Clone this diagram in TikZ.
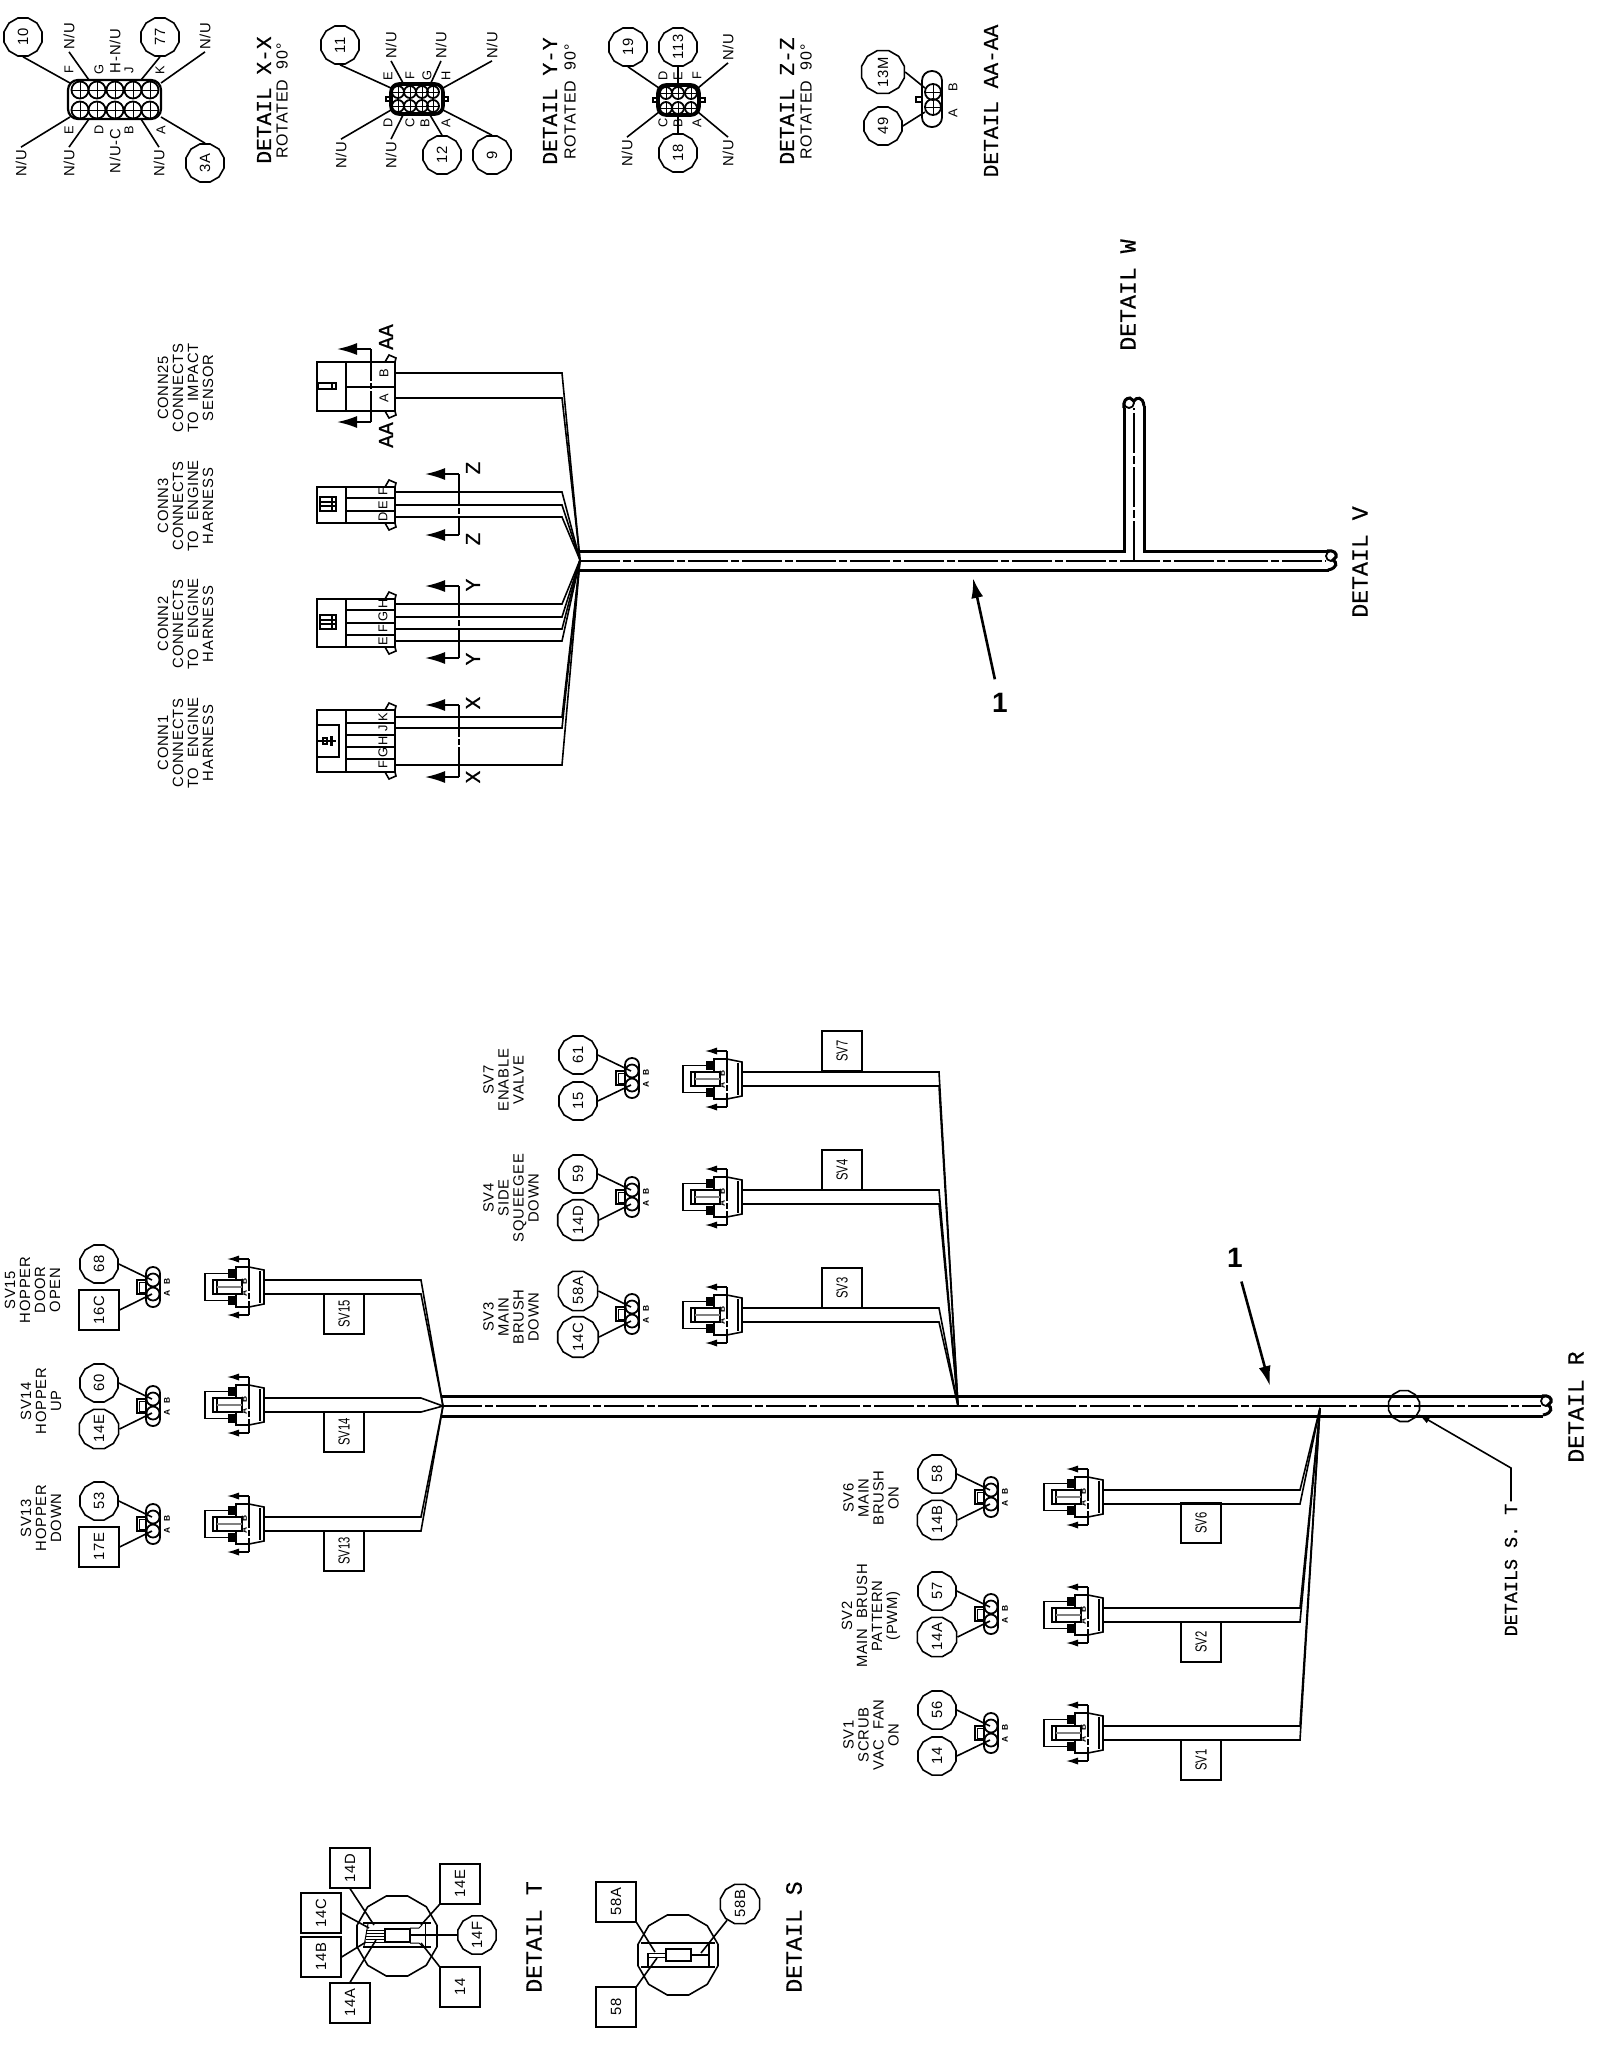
\documentclass[tikz,border=0pt]{standalone}
\usepackage{fontspec}
\setsansfont{Liberation Sans}
\setmonofont{Liberation Mono}
\newfontfamily\cadfont[LetterSpace=5,WordSpace=2]{Liberation Sans}
\newfontfamily\tagfont[FakeStretch=0.7]{Liberation Sans}
\newfontfamily\detfont[FakeBold=0.5]{Liberation Mono}
\usetikzlibrary{arrows.meta,calc,shapes.geometric}

\tikzset{
	wire/.style={line width=0.8pt},
	thinwire/.style={line width=0.5pt},
	trunk/.style={line width=1.5pt},
	midline/.style={line width=0.6pt, dash pattern=on 20pt off 1.5pt on 4pt off 1.5pt},
	cutline/.style={line width=0.8pt, dash pattern=on 16pt off 1pt on 3pt off 1pt},
	cutbig/.style={line width=0.9pt, -{Latex[length=10pt,width=6pt]}},
	cutsmall/.style={line width=0.7pt, -{Latex[length=6pt,width=3.6pt]}},
	callout/.style={line width=1.3pt, shorten <=7pt, -{Latex[length=10pt,width=6pt]}},
	cad/.style={rotate=90, inner sep=1pt, align=center, font=\cadfont\fontsize{7.4}{7.5}\selectfont},
	rotlbl/.style={rotate=90, inner sep=0pt, font=\cadfont\fontsize{8}{9}\selectfont},
	pinlbl/.style={rotate=90, inner sep=0pt, font=\sffamily\fontsize{6.4}{6.4}\selectfont},
	tinylbl/.style={rotate=90, inner sep=0pt, font=\sffamily\bfseries\fontsize{4.2}{4.2}\selectfont},
	detlbl/.style={rotate=90, inner sep=0pt, font=\detfont\fontsize{10.6}{12}\selectfont},
	detbig/.style={rotate=90, inner sep=0pt, font=\detfont\fontsize{11.6}{13}\selectfont},
	bubble/.style={cad, draw, wire, regular polygon, regular polygon sides=12, minimum size=19.7pt, inner sep=0pt},
	ring/.style={draw, wire, regular polygon, regular polygon sides=12, inner sep=0pt},
	tag/.style={cad, draw, wire, minimum width=19.8pt, minimum height=19.8pt, inner sep=0pt},
	svtag/.style={tag, font=\tagfont\fontsize{8}{8}\selectfont}
}

% round pin with a cross on it
\newcommand{\crosspin}[3]{
	\draw[line width=0.9pt] (#1,#2) circle (#3);
	\draw[thinwire] (#1-#3,#2) -- (#1+#3,#2) (#1,#2-#3) -- (#1,#2+#3);
}
% end of a harness, x of the small circle and y of the upper line
\newcommand{\harnesscap}[2]{
	\draw[line width=0.9pt] (#1,#2+5) circle (5);
	\draw[trunk] (#1-4,#2) .. controls (#1+3,#2-1) and (#1+6,#2+2) .. (#1+5,#2+6) -- (#1+2,#2+9) .. controls (#1+6,#2+11) and (#1+7,#2+17) .. (#1-3,#2+19);
}
% engine side connector body
\newcommand{\connbody}[2]{
	\draw[wire] (317,#1) rectangle (395,#2);
	\draw[wire] (346,#1) -- (346,#2);
	\draw[wire] (385,#1) -- (389,#1-7) -- (396,#1-4) -- (395,#1);
	\draw[wire] (385,#2) -- (389,#2+7) -- (396,#2+4) -- (395,#2);
}
% section marks on a connector
\newcommand{\sectcut}[3]{
	\draw[cutline] (#1,#2) -- (#1,#3);
	\draw[cutbig] (#1,#2) -- (#1-34,#2);
	\draw[cutbig] (#1,#3) -- (#1-34,#3);
}
% solenoid plug seen from the side
\newcommand{\solplug}[3]{
	\begin{scope}[shift={(#2,#3)}]
		\draw[wire] (-44,-13.5) rectangle (-13,13.5);
		\draw[wire, fill=white] (-13,-20) -- (0,-20) -- (15,-17) -- (15,17) -- (0,20) -- (-13,20) -- cycle;
		\draw[wire] (11,-16) -- (11,16);
		\fill (-21,-18) rectangle (-13,-9);
		\fill (-21,9) rectangle (-13,18);
		\draw[wire, fill=white] (-36,-7) rectangle (-7,7);
		\draw[line width=1.4pt] (-32,-7) -- (-32,7);
		\draw[line width=1.2pt, black!50] (-32,0) -- (-7,0);
		\draw[cutline] (0,-28) -- (0,28);
		\draw[cutsmall] (0,-28) -- (-22,-28);
		\draw[cutsmall] (0,28) -- (-22,28);
		\node[tinylbl] (#1B) at (-5,-6) {B};
		\node[tinylbl] (#1A) at (-5,6) {A};
		\coordinate (#1a) at (15,-7);
		\coordinate (#1b) at (15,7);
	\end{scope}
}
% solenoid plug seen from the end, with its two callouts
\newcommand{\solview}[6]{
	\begin{scope}[shift={(#2,#3)}]
		\draw[line width=0.9pt, rounded corners=3.4pt] (-7,-20) rectangle (7,20);
		\draw[wire] (-16,-7) rectangle (-7,7);
		\draw[thinwire] (-14,-5) rectangle (-7,5);
		\draw[line width=0.9pt] (0,-7) circle (6.5);
		\draw[line width=0.9pt] (0,7) circle (6.5);
		\coordinate (#1t) at (-1,-7);
		\coordinate (#1d) at (-1,7);
		\node[tinylbl] (#1B) at (14,-6) {B};
		\node[tinylbl] (#1A) at (14,6) {A};
	\end{scope}
	\node[bubble] (#1u) at (#2-54,#3-23) {#4};
	\node[#5] (#1l) at (#2-54,#3+23) {#6};
	\draw[wire] (#1u.south) -- (#1t);
	\draw[wire] (#1l.south) -- (#1d);
}

\begin{document}
\begin{tikzpicture}[x=0.5pt,y=-0.5pt]
			\useasboundingbox (0,0) rectangle (1600,2053);
			%%%%% START %%%%%
			
			% detail X-X
			\draw[line width=1.1pt, rounded corners=5pt] (68,80) rectangle (161,119);
			\foreach \px in {80,97,115,133,150}
				\foreach \py in {90,110}
					\crosspin{\px}{\py}{8.5};
			\node[bubble] (b10) at (23,37) {10};
			\node[bubble] (b77) at (160,37) {77};
			\node[bubble] (b3A) at (205,163) {3A};
			\node[cad] (nxa) at (69,36) {N/U};
			\node[cad] (nxb) at (115,51) {H-N/U};
			\node[cad] (nxc) at (205,36) {N/U};
			\node[cad] (nxd) at (21,163) {N/U};
			\node[cad] (nxe) at (69,163) {N/U};
			\node[cad] (nxf) at (115,151) {N/U-C};
			\node[cad] (nxg) at (159,163) {N/U};
			\foreach \l/\px/\py in {F/69/70,G/99/70,J/129/70,K/160/70,E/69/130,D/99/130,B/129/130,A/161/130}
				\node[pinlbl] (x\l) at (\px,\py) {\l};
			\coordinate (xa) at (70,83);
			\coordinate (xb) at (89,80);
			\coordinate (xc) at (141,80);
			\coordinate (xd) at (161,83);
			\coordinate (xe) at (70,117);
			\coordinate (xf) at (89,119);
			\coordinate (xg) at (141,119);
			\coordinate (xh) at (161,117);
			\draw[wire] (b10.west) -- (xa);
			\draw[wire] (nxa.west) -- (xb);
			\draw[wire] (b77.west) -- (xc);
			\draw[wire] (nxc.west) -- (xd);
			\draw[wire] (nxd.east) -- (xe);
			\draw[wire] (nxe.east) -- (xf);
			\draw[wire] (nxg.east) -- (xg);
			\draw[wire] (b3A.east) -- (xh);
			\node[detlbl] (detx) at (264,100) {DETAIL X-X};
			\node[rotlbl] (rotx) at (282,101) {ROTATED 90°};
			
			% detail Y-Y
			\draw[line width=1.8pt, rounded corners=4pt] (391,84) rectangle (443,114);
			\draw[wire] (386,97) rectangle (391,101);
			\draw[wire] (443,97) rectangle (448,101);
			\foreach \px in {398,410,422,433}
				\foreach \py in {92,106}
					\crosspin{\px}{\py}{6};
			\node[bubble] (b11) at (340,45) {11};
			\node[bubble] (b12) at (442,155) {12};
			\node[bubble] (b9) at (492,155) {9};
			\node[cad] (nya) at (391,45) {N/U};
			\node[cad] (nyb) at (441,45) {N/U};
			\node[cad] (nyc) at (492,45) {N/U};
			\node[cad] (nyd) at (341,155) {N/U};
			\node[cad] (nye) at (391,155) {N/U};
			\foreach \l/\px/\py in {E/388/76,F/410/76,G/427/76,H/446/76,D/388/123,C/410/123,B/425/123,A/446/123}
				\node[pinlbl] (y\l) at (\px,\py) {\l};
			\coordinate (ya) at (391,88);
			\coordinate (yb) at (403,83);
			\coordinate (yc) at (430,85);
			\coordinate (yd) at (443,88);
			\coordinate (ye) at (391,110);
			\coordinate (yf) at (403,115);
			\coordinate (yg) at (430,115);
			\coordinate (yh) at (443,110);
			\draw[wire] (b11.west) -- (ya);
			\draw[wire] (nya.west) -- (yb);
			\draw[wire] (nyb.west) -- (yc);
			\draw[wire] (nyc.west) -- (yd);
			\draw[wire] (nyd.east) -- (ye);
			\draw[wire] (nye.east) -- (yf);
			\draw[wire] (b12.east) -- (yg);
			\draw[wire] (b9.east) -- (yh);
			\node[detlbl] (dety) at (550,101) {DETAIL Y-Y};
			\node[rotlbl] (roty) at (570,102) {ROTATED 90°};
			
			% detail Z-Z
			\draw[line width=1.8pt, rounded corners=4pt] (658,85) rectangle (699,115);
			\draw[wire] (653,98) rectangle (658,102);
			\draw[wire] (699,98) rectangle (705,102);
			\foreach \px in {666,678,691}
				\foreach \py in {93,108}
					\crosspin{\px}{\py}{6};
			\node[bubble] (b19) at (628,47) {19};
			\node[bubble] (b113) at (678,47) {113};
			\node[bubble] (b18) at (678,153) {18};
			\node[cad] (nza) at (728,47) {N/U};
			\node[cad] (nzb) at (627,153) {N/U};
			\node[cad] (nzc) at (728,153) {N/U};
			\foreach \l/\px/\py in {D/663/76,E/678/76,F/697/76,C/663/123,B/678/123,A/697/123}
				\node[pinlbl] (z\l) at (\px,\py) {\l};
			\coordinate (za) at (659,88);
			\coordinate (zb) at (678,85);
			\coordinate (zc) at (698,88);
			\coordinate (zd) at (659,112);
			\coordinate (ze) at (678,115);
			\coordinate (zf) at (698,112);
			\draw[wire] (b19.west) -- (za);
			\draw[wire] (b113.west) -- (zb);
			\draw[wire] (nza.west) -- (zc);
			\draw[wire] (nzb.east) -- (zd);
			\draw[wire] (b18.east) -- (ze);
			\draw[wire] (nzc.east) -- (zf);
			\node[detlbl] (detz) at (787,101) {DETAIL Z-Z};
			\node[rotlbl] (rotz) at (806,102) {ROTATED 90°};
			
			% detail AA-AA
			\draw[line width=0.9pt, rounded corners=4.8pt] (922,71) rectangle (942,127);
			\draw[wire] (916,97) rectangle (922,102);
			\crosspin{933}{92}{8};
			\crosspin{933}{107}{8};
			\node[bubble] (b13M) at (883,72) {13M};
			\node[bubble] (b49) at (883,126) {49};
			\node[pinlbl] (aB) at (953,87) {B};
			\node[pinlbl] (aA) at (953,113) {A};
			\coordinate (aa) at (925,88);
			\coordinate (ab) at (925,112);
			\draw[wire] (b13M.south) -- (aa);
			\draw[wire] (b49.south) -- (ab);
			\node[detlbl] (detaa) at (991,101) {DETAIL AA-AA};
			
			% upper harness
			\coordinate (jh) at (580,560);
			\draw[trunk] (580,551) -- (1124,551) -- (1124,408);
			\draw[trunk] (1144,406) -- (1144,551) -- (1327,551);
			\draw[trunk] (580,570) -- (1329,570);
			\harnesscap{1331}{551}
			\draw[line width=0.9pt] (1129,403) circle (5);
			\draw[trunk] (1124,408) .. controls (1123,401) and (1126,398) .. (1130,398) -- (1134,401) .. controls (1136,397) and (1143,396) .. (1144,406);
			\draw[midline] (580,561) -- (1326,561);
			\draw[midline] (1134,561) -- (1134,408);
			
			\node[cad] (cn25) at (185.5,388) {CONN25\\CONNECTS\\TO IMPACT\\SENSOR};
			\node[cad] (cn3) at (185.5,506) {CONN3\\CONNECTS\\TO ENGINE\\HARNESS};
			\node[cad] (cn2) at (185.5,624) {CONN2\\CONNECTS\\TO ENGINE\\HARNESS};
			\node[cad] (cn1) at (185.5,743) {CONN1\\CONNECTS\\TO ENGINE\\HARNESS};
			
			\connbody{362}{411}
			\connbody{487}{523}
			\connbody{599}{647}
			\connbody{710}{772}
			\foreach \hy in {387,498,511,610,623,635,723,735,747,759}
				\draw[wire] (346,\hy) -- (395,\hy);
			\foreach \wy in {373,398,492,505,517,604,617,629,641,717,728,765}
				\draw[wire] (395,\wy) -- (562,\wy) -- (jh);
			\foreach \l/\py in {B/373,A/398}
				\node[pinlbl] (c25\l) at (384,\py) {\l};
			\foreach \l/\py in {F/492,E/505,D/517}
				\node[pinlbl] (c3\l) at (383,\py) {\l};
			\foreach \l/\py in {H/604,G/617,F/629,E/641}
				\node[pinlbl] (c2\l) at (383,\py) {\l};
			\foreach \l/\py in {K/717,J/728,H/741,G/753,F/765}
				\node[pinlbl] (c1\l) at (383,\py) {\l};
			
			% small marks inside the connector bodies
			\draw[wire] (318,383) rectangle (336,389);
			\draw[wire] (332,383) -- (332,389);
			\foreach \py in {497,615}{
				\draw[wire] (320,\py) rectangle (336,\py+14);
				\draw[wire] (320,\py+5) -- (336,\py+5) (320,\py+9) -- (336,\py+9) (332,\py) -- (332,\py+14);
			}
			\draw[wire] (317,725) rectangle (339,757);
			\draw[wire] (318,741) -- (336,741);
			\fill (330,736) rectangle (333,746);
			\draw[wire] (323,738) rectangle (327,744);
			
			\sectcut{371}{349}{422}
			\sectcut{459}{474}{535}
			\sectcut{459}{586}{658}
			\sectcut{459}{705}{777}
			\node[detlbl] (aat) at (386,337) {AA};
			\node[detlbl] (aab) at (386,435) {AA};
			\node[detlbl] (zt) at (473,468) {Z};
			\node[detlbl] (zb) at (473,539) {Z};
			\node[detlbl] (yt) at (473,585) {Y};
			\node[detlbl] (yb) at (473,659) {Y};
			\node[detlbl] (xt) at (473,703) {X};
			\node[detlbl] (xb) at (473,777) {X};
			
			\node[font=\sffamily\bfseries\fontsize{14}{14}\selectfont, inner sep=0pt] (oneu) at (1000,703) {1};
			\coordinate (oneut) at (973,578);
			\draw[callout] (oneu) -- (oneut);
			\node[detbig] (detw) at (1128,295) {DETAIL W};
			\node[detbig] (detv) at (1360,562) {DETAIL V};
			
			% lower harness
			\coordinate (jl) at (443,1406);
			\coordinate (jm) at (958,1406);
			\coordinate (jr) at (1320,1408);
			\draw[trunk] (442,1396) -- (1542,1396);
			\draw[trunk] (442,1416) -- (1543,1416);
			\harnesscap{1546}{1396}
			\draw[midline] (442,1406) -- (1541,1406);
			
			% middle solenoids
			\node[cad] (sv7t) at (503.5,1080) {SV7\\ENABLE\\VALVE};
			\node[cad] (sv4t) at (511,1198) {SV4\\SIDE\\SQUEEGEE\\DOWN};
			\node[cad] (sv3t) at (511,1317) {SV3\\MAIN\\BRUSH\\DOWN};
			\solview{vs7}{632}{1078}{61}{bubble}{15}
			\solview{vs4}{632}{1197}{59}{bubble}{14D}
			\solview{vs3}{632}{1314}{58A}{bubble}{14C}
			\solplug{ps7}{727}{1079}
			\solplug{ps4}{727}{1197}
			\solplug{ps3}{727}{1315}
			\node[svtag] (ts7) at (842,1051) {SV7};
			\node[svtag] (ts4) at (842,1170) {SV4};
			\node[svtag] (ts3) at (842,1288) {SV3};
			\foreach \n in {ps7,ps4,ps3}{
				\draw[wire] (\n a) -- ++(197,0) -- (jm);
				\draw[wire] (\n b) -- ++(197,0) -- (jm);
			}
			
			% left solenoids
			\node[cad] (sv15t) at (32.5,1290) {SV15\\HOPPER\\DOOR\\OPEN};
			\node[cad] (sv14t) at (41,1401) {SV14\\HOPPER\\UP};
			\node[cad] (sv13t) at (41,1518) {SV13\\HOPPER\\DOWN};
			\solview{vs15}{153}{1287}{68}{tag}{16C}
			\solview{vs14}{153}{1406}{60}{bubble}{14E}
			\solview{vs13}{153}{1524}{53}{tag}{17E}
			\solplug{ps15}{249}{1287}
			\solplug{ps14}{249}{1405}
			\solplug{ps13}{249}{1524}
			\node[svtag] (ts15) at (344,1314) {SV15};
			\node[svtag] (ts14) at (344,1432) {SV14};
			\node[svtag] (ts13) at (344,1551) {SV13};
			\foreach \n in {ps15,ps14,ps13}{
				\draw[wire] (\n a) -- ++(157,0) -- (jl);
				\draw[wire] (\n b) -- ++(157,0) -- (jl);
			}
			
			% right solenoids
			\node[cad] (sv6t) at (871,1498) {SV6\\MAIN\\BRUSH\\ON};
			\node[cad] (sv2t) at (871,1616) {SV2\\MAIN BRUSH\\PATTERN\\(PWM)};
			\node[cad] (sv1t) at (871,1735) {SV1\\SCRUB\\VAC FAN\\ON};
			\solview{vs6}{991}{1497}{58}{bubble}{14B}
			\solview{vs2}{991}{1614}{57}{bubble}{14A}
			\solview{vs1}{991}{1733}{56}{bubble}{14}
			\solplug{ps6}{1088}{1497}
			\solplug{ps2}{1088}{1615}
			\solplug{ps1}{1088}{1733}
			\node[svtag] (ts6) at (1201,1523) {SV6};
			\node[svtag] (ts2) at (1201,1642) {SV2};
			\node[svtag] (ts1) at (1201,1760) {SV1};
			\foreach \n in {ps6,ps2,ps1}{
				\draw[wire] (\n a) -- ++(197,0) -- (jr);
				\draw[wire] (\n b) -- ++(197,0) -- (jr);
			}
			
			\node[font=\sffamily\bfseries\fontsize{14}{14}\selectfont, inner sep=0pt] (onel) at (1235,1258) {1};
			\coordinate (onelt) at (1270,1386);
			\draw[callout] (onel) -- (onelt);
			
			\node[ring, minimum size=16pt] (loc) at (1404,1406) {};
			\node[rotate=90, inner sep=1pt, font=\detfont\fontsize{9.2}{11}\selectfont] (detst) at (1511,1570) {DETAILS S. T};
			\coordinate (locbend) at (1511,1468);
			\draw[wire, -{Latex[length=6pt,width=3.5pt]}] (detst.east) -- (locbend) -- (loc);
			\node[detbig] (detr) at (1576,1407) {DETAIL R};
			
			% detail T
			\node[ring, minimum size=41.4pt] (octt) at (397,1936) {};
			\draw[line width=1pt] (363,1923) -- (431,1923);
			\draw[line width=1pt] (363,1947) -- (431,1947);
			\draw[line width=1.2pt] (385,1929) rectangle (410,1942);
			\foreach \py in {1930,1933,1936,1939,1942}
				\draw[thinwire] (366,\py) -- (385,\py);
			\draw[thinwire] (368,1924) -- (364,1946);
			\draw[thinwire] (410,1928) -- (419,1928) -- (422,1925);
			\draw[thinwire] (410,1943) -- (419,1943) -- (422,1946);
			\draw[thinwire] (425,1923) -- (425,1947);
			\coordinate (ta) at (376,1940);
			\coordinate (tb) at (366,1942);
			\coordinate (tc) at (369,1928);
			\coordinate (td) at (374,1925);
			\coordinate (te) at (421,1925);
			\coordinate (tf) at (410,1935);
			\coordinate (tg) at (421,1943);
			\node[tag] (t14d) at (350,1868) {14D};
			\node[tag] (t14e) at (460,1884) {14E};
			\node[tag] (t14c) at (321,1913) {14C};
			\node[tag] (t14b) at (321,1957) {14B};
			\node[tag] (t14a) at (350,2003) {14A};
			\node[tag] (t14) at (460,1987) {14};
			\node[bubble] (b14f) at (477,1935) {14F};
			\draw[wire] (t14d.west) -- (td);
			\draw[wire] (t14c.south) -- (tc);
			\draw[wire] (t14b.south) -- (tb);
			\draw[wire] (t14a.east) -- (ta);
			\draw[wire] (t14e.north west) -- (te);
			\draw[wire] (t14.north east) -- (tg);
			\draw[wire] (b14f.north) -- (tf);
			\node[detbig] (dett) at (534,1937) {DETAIL T};
			
			% detail S
			\node[ring, minimum size=41.4pt] (octs) at (678,1955) {};
			\draw[line width=1pt] (641,1943) -- (715,1943);
			\draw[line width=1pt] (641,1967) -- (715,1967);
			\draw[line width=1.2pt] (666,1949) rectangle (691,1961);
			\draw[thinwire] (648,1953) -- (666,1953) (648,1957) -- (666,1957);
			\draw[wire] (691,1955) -- (709,1955);
			\draw[wire] (709,1943) -- (709,1967);
			\draw[wire] (648,1953) -- (648,1967);
			\coordinate (sa) at (655,1952);
			\coordinate (sb) at (657,1958);
			\coordinate (sc) at (701,1953);
			\node[tag] (t58a) at (616,1902) {58A};
			\node[tag] (t58) at (616,2007) {58};
			\node[bubble] (b58b) at (740,1904) {58B};
			\draw[wire] (t58a.south west) -- (sa);
			\draw[wire] (t58.south east) -- (sb);
			\draw[wire] (b58b) -- (sc);
			\node[detbig] (dets) at (794,1937) {DETAIL S};
			
			%%%%% END %%%%%
		\end{tikzpicture}
\end{document}
